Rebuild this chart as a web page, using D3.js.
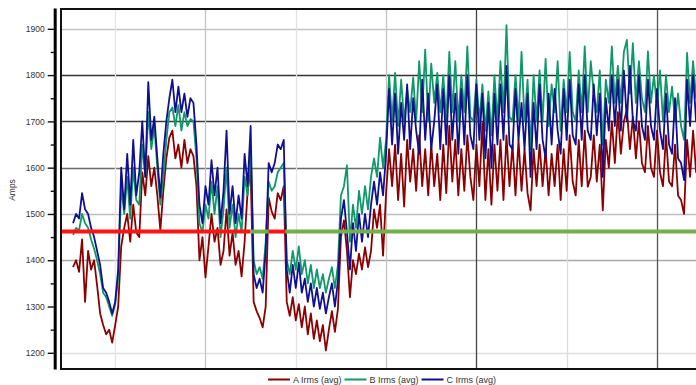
<!DOCTYPE html>
<html>
<head>
<meta charset="utf-8">
<script src="https://cdn.jsdelivr.net/npm/d3@7"></script>
<style>
  html, body { margin: 0; padding: 0; background: #fff; }
  svg { display: block; font-family: "Liberation Sans", Arial, sans-serif; }
</style>
</head>
<body>
<svg id="chart" width="696" height="385"></svg>
<script>
// Phase currents (Irms average), one reading per sample slot.
const seriesNames = ["A Irms (avg)", "B Irms (avg)", "C Irms (avg)"];
const firstSample = 4;      // readings begin at sample slot 4
const lastSlot = 212;       // last sample slot shown

const phaseA = [
  1385,1400,1375,1445,1310,1420,1380,1400,1345,1285,1260,1240,1250,1222,1260,
  1300,1430,1470,1500,1440,1520,1460,1450,1590,1540,1625,1560,1600,1540,1465,1550,1620,1665,1680,1620,1650,1600,1660,1610,1640,
  1625,1560,1400,1450,1363,1430,1500,1440,1470,1390,1420,1510,1410,1460,1390,1420,1365,1440,1550,1595,
  1310,1290,1275,1255,1300,
  1535,1505,1490,1545,1530,1560,
  1310,1280,1320,1270,1305,1255,1300,1240,1285,1230,1270,1225,1260,1205,1250,1290,1245,1295,
  1450,1486,1420,1320,1400,1370,1414,1380,1428,1385,1420,1510,1470,1520,1410,1545,
  1640,1560,1650,1530,1630,1516,1660,1570,1640,1550,
  1670,1560,1640,1540,1650,1560,1630,1530,1650,1545,
  1690,1570,1660,1540,1640,1550,1670,1580,1530,1650,
  1560,1696,1530,1640,1520,1650,1550,1660,1530,1670,
  1560,1650,1540,1660,1550,1640,1545,1508,1640,1560,
  1650,1560,1640,1540,1630,1560,1650,1530,1640,1550,
  1670,1570,1540,1660,1560,1680,1559,1580,1670,1570,
  1650,1508,1660,1600,1700,1610,1720,1630,1700,1725,
  1640,1710,1620,1700,1610,1590,1690,1600,1580,1680,
  1590,1560,1670,1570,1560,1650,1540,1530,1500,1660,
  1580,1680,1590,1650
];

const phaseB = [
  1455,1470,1465,1500,1480,1470,1445,1425,1400,1370,1330,1320,1300,1280,1305,
  1360,1560,1500,1580,1490,1600,1530,1520,1650,1580,1720,1640,1690,1600,1520,1580,1660,1720,1730,1690,1735,1680,1720,1690,1705,
  1700,1620,1480,1460,1520,1490,1570,1500,1560,1450,1510,1600,1470,1520,1450,1500,1460,1580,1540,1640,
  1400,1370,1385,1360,1440,
  1570,1550,1560,1590,1600,1610,
  1400,1370,1420,1380,1430,1370,1400,1350,1390,1340,1380,1340,1370,1330,1360,1385,1340,1390,
  1540,1560,1605,1440,1520,1470,1550,1500,1560,1510,1580,1620,1580,1665,1600,1660,
  1800,1700,1805,1690,1790,1700,1770,1720,1795,1700,
  1830,1720,1855,1700,1825,1740,1805,1720,1800,1700,
  1850,1720,1830,1700,1800,1720,1862,1710,1700,1790,
  1700,1780,1680,1765,1670,1800,1700,1830,1720,1908,
  1710,1700,1800,1700,1850,1700,1790,1640,1800,1700,
  1810,1700,1835,1690,1780,1720,1830,1680,1790,1720,
  1850,1720,1700,1810,1720,1862,1720,1830,1760,1720,
  1810,1650,1790,1740,1862,1740,1820,1740,1850,1876,
  1760,1869,1740,1830,1750,1720,1851,1740,1800,1730,
  1810,1700,1800,1720,1775,1700,1760,1690,1660,1848,
  1740,1830,1750,1810
];

const phaseC = [
  1480,1500,1490,1545,1510,1500,1470,1450,1420,1390,1340,1330,1310,1285,1310,
  1380,1600,1510,1630,1520,1660,1540,1590,1700,1580,1785,1660,1710,1620,1536,1630,1700,1750,1790,1720,1775,1720,1760,1710,1750,
  1740,1650,1520,1480,1560,1520,1616,1540,1600,1480,1550,1680,1500,1560,1480,1540,1490,1630,1560,1690,
  1370,1340,1360,1330,1420,
  1610,1590,1610,1650,1640,1660,
  1380,1330,1390,1340,1395,1330,1360,1310,1350,1300,1340,1295,1330,1285,1320,1350,1300,1355,
  1490,1530,1460,1380,1480,1420,1500,1440,1500,1450,1520,1570,1520,1590,1540,1630,
  1770,1650,1760,1630,1740,1660,1780,1640,1750,1680,
  1630,1790,1660,1760,1640,1700,1780,1640,1770,1650,
  1800,1660,1760,1630,1770,1650,1800,1670,1640,1780,
  1660,1760,1620,1740,1600,1760,1650,1780,1660,1820,
  1650,1640,1770,1660,1740,1640,1760,1580,1740,1640,
  1780,1660,1620,1760,1650,1770,1680,1630,1770,1660,
  1790,1670,1650,1780,1660,1800,1680,1660,1780,1670,
  1760,1580,1750,1680,1800,1690,1790,1680,1810,1700,
  1820,1700,1680,1800,1690,1660,1790,1690,1660,1770,
  1680,1640,1760,1650,1630,1750,1620,1610,1573,1790,
  1690,1800,1700,1760
];

const yTicks = [1200, 1300, 1400, 1500, 1600, 1700, 1800, 1900];
const yMinorTicks = [1250, 1350, 1450, 1550, 1650, 1750, 1850];
const timeGrid = [18, 48, 78, 108, 138, 168, 198];

// Current limit, coloured by whether the load was over it
const limitValue = 1462;
const limitSegments = [
  { from: 0, to: 63, state: "over" },
  { from: 63, to: 69, state: "ok" },
  { from: 69, to: 74.5, state: "over" },
  { from: 74.5, to: lastSlot, state: "ok" }
];

// ---- styles ----
const seriesColors = ["#8b0000", "#0f9868", "#10108f"];
const limitColors = { over: "#ff1414", ok: "#74b04a" };
const hGridColors = { 1200: "#dedede", 1400: "#a8a8a8", 1500: "#bdbdbd",
                      1600: "#6a6a6a", 1700: "#3a3a3a", 1800: "#333", 1900: "#c4c4c4" };
const vGridColors = ["#e4e4e4", "#c4c4c4", "#e2e2e2", "#c4c4c4", "#444", "#dcdcdc", "#555"];

const svg = d3.select("#chart");
const plot = { left: 61, top: 8, bottom: 369, right: 700 };

const x = d3.scaleLinear().domain([0, lastSlot]).range([plot.left, plot.left + lastSlot * 3.01]);
const y = d3.scaleLinear().domain([1165, 1945]).range([plot.bottom, plot.top]);

svg.append("defs").append("clipPath").attr("id", "plotClip")
  .append("rect")
  .attr("x", plot.left).attr("y", plot.top)
  .attr("width", plot.right - plot.left).attr("height", plot.bottom - plot.top);

// grid (the 1300 level carries no line)
const grid = svg.append("g");
grid.selectAll("line.h").data(yTicks.filter(v => hGridColors[v])).join("line")
  .attr("class", "h")
  .attr("x1", plot.left).attr("x2", plot.right)
  .attr("y1", d => Math.round(y(d)) + 0.5).attr("y2", d => Math.round(y(d)) + 0.5)
  .attr("stroke", d => hGridColors[d]).attr("stroke-width", 1.3);
grid.selectAll("line.v").data(timeGrid).join("line")
  .attr("class", "v")
  .attr("x1", d => Math.round(x(d)) + 0.5).attr("x2", d => Math.round(x(d)) + 0.5)
  .attr("y1", plot.top).attr("y2", plot.bottom)
  .attr("stroke", (d, i) => vGridColors[i]).attr("stroke-width", 1.3);

// series
const seriesData = [phaseA, phaseB, phaseC];
const line = d3.line()
  .x((d, i) => x(firstSample + i))
  .y(d => y(d));

const lines = svg.append("g").attr("clip-path", "url(#plotClip)");
lines.selectAll("path").data(seriesData).join("path")
  .attr("d", d => line(d))
  .attr("fill", "none")
  .attr("stroke", (d, i) => seriesColors[i])
  .attr("stroke-width", 1.8)
  .attr("stroke-linejoin", "round");

// limit line
lines.selectAll("line.limit").data(limitSegments).join("line")
  .attr("class", "limit")
  .attr("x1", d => x(d.from)).attr("x2", d => x(d.to))
  .attr("y1", y(limitValue)).attr("y2", y(limitValue))
  .attr("stroke", d => limitColors[d.state])
  .attr("stroke-width", 4);

// frame
const frame = svg.append("g").attr("stroke", "#111").attr("stroke-width", 2);
frame.append("line").attr("x1", plot.left).attr("x2", 696).attr("y1", plot.top + 1).attr("y2", plot.top + 1);
frame.append("line").attr("x1", plot.left).attr("x2", 696).attr("y1", plot.bottom).attr("y2", plot.bottom);
frame.append("line").attr("x1", plot.left).attr("x2", plot.left).attr("y1", plot.top).attr("y2", plot.bottom + 1);

// y axis
const axisX = 54.7;
const yAxis = svg.append("g").attr("transform", `translate(${axisX},0)`)
  .call(d3.axisLeft(y).tickValues(yTicks).tickSize(7).tickSizeOuter(0).tickPadding(3).tickFormat(d3.format("d")));
yAxis.select(".domain").attr("stroke", "#000").attr("stroke-width", 3);
yAxis.selectAll(".tick line").attr("stroke", "#111").attr("stroke-width", 1.4);
yAxis.selectAll(".tick text").attr("fill", "#333").attr("font-size", 8.5)
  .attr("font-family", "Liberation Sans, Arial, sans-serif");

const yMinor = svg.append("g").attr("transform", `translate(${axisX},0)`)
  .call(d3.axisLeft(y).tickValues(yMinorTicks).tickSize(4).tickFormat(""));
yMinor.select(".domain").remove();
yMinor.selectAll(".tick line").attr("stroke", "#111").attr("stroke-width", 1.4);

svg.append("text")
  .attr("transform", "translate(15,190) rotate(-90)")
  .attr("text-anchor", "middle")
  .attr("font-size", 8.5).attr("fill", "#333")
  .text("Amps");

// legend
const legend = svg.append("g");
let lx = 268;
seriesNames.forEach((name, i) => {
  const g = legend.append("g");
  g.append("line").attr("x1", lx).attr("x2", lx + 22).attr("y1", 379.5).attr("y2", 379.5)
    .attr("stroke", seriesColors[i]).attr("stroke-width", 2);
  const t = g.append("text").attr("x", lx + 25).attr("y", 382.5)
    .attr("font-size", 9).attr("fill", "#333").text(name);
  lx += 25 + t.node().getComputedTextLength() + 3;
});
</script>
</body>
</html>
